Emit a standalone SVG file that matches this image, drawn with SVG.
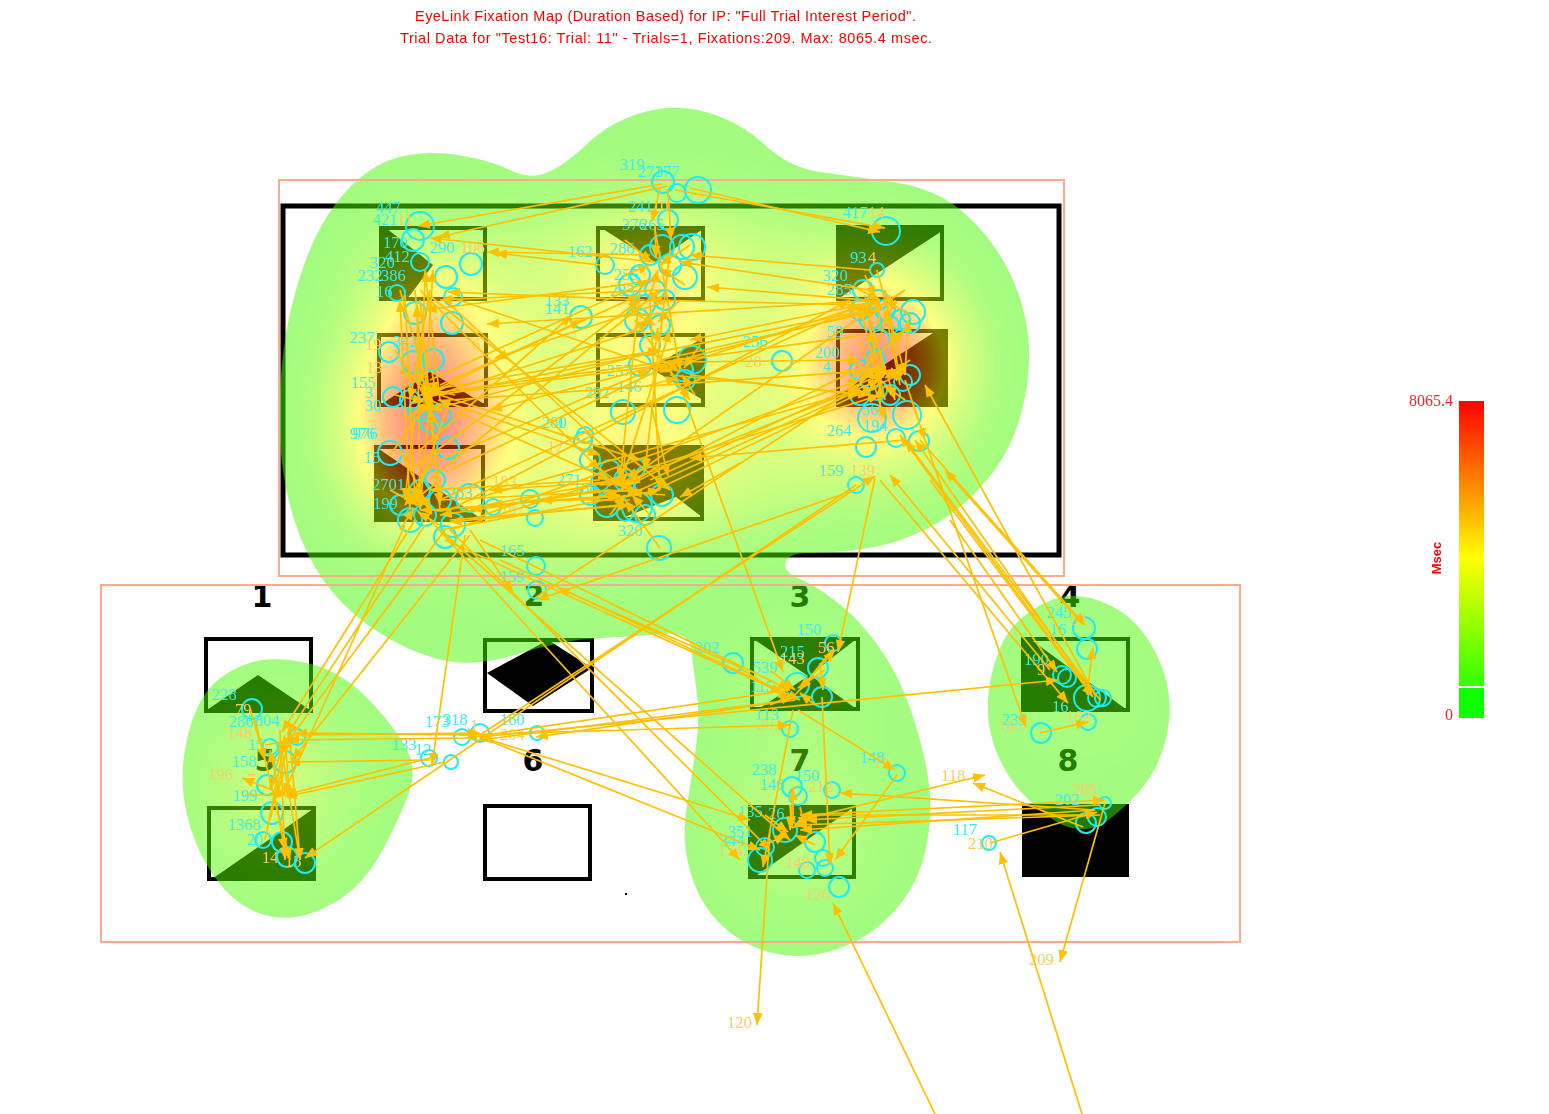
<svg xmlns="http://www.w3.org/2000/svg" width="1549" height="1114" viewBox="0 0 1549 1114">
<style>
.b{fill:none;stroke:#000;stroke-width:4}
.k{fill:#000}
.ip{fill:none;stroke:#ffa98f;stroke-width:2}
.n{font:bold 30px "DejaVu Sans",sans-serif;text-anchor:middle;fill:#000}
.t{font:14.5px "Liberation Sans",Arial,sans-serif;fill:#ff0000}
.v{font:16px "Liberation Serif",serif;fill:#ff2020;text-anchor:end}
.f circle{fill:none;stroke:#1fecf0;stroke-width:2}
.f text{font:16.5px "Liberation Serif",serif;fill:#3cecec}
.f text.o{fill:#ffca62}
#connectors path{fill:none;stroke:#ffc000;stroke-width:1.7;marker-end:url(#arr)}
</style>
<defs>
<marker id="arr" viewBox="0 0 10 8" refX="10" refY="4" markerWidth="12" markerHeight="11" markerUnits="userSpaceOnUse" orient="auto"><path d="M0 0L10 4L0 8Z" fill="#ffc000"/></marker>
<clipPath id="blob">
<path d="M397.5 157.5Q425 150 457.5 155Q490 160 510 170Q530 180 547.5 172.5Q565 165 587.5 143.5Q610 122 642.5 112.5Q675 103 707.5 112.5Q740 122 765 145Q790 168 820 172Q850 176 892.5 182Q935 188 962.5 211.5Q990 235 1007 267.5Q1024 300 1028 335Q1032 370 1022 410Q1012 450 986 481Q960 512 927.5 528.5Q895 545 862.5 549Q830 553 809 553Q788 553 785.5 562.5Q783 572 799 578.5Q815 585 837.5 602.5Q860 620 880 648.5Q900 677 912.5 715Q925 753 929 784Q933 815 925.5 850Q918 885 894 911.5Q870 938 837.5 949Q805 960 775 953.5Q745 947 722.5 926Q700 905 690.5 872.5Q681 840 687 805Q693 770 696.5 742.5Q700 715 696.5 690Q693 665 691.5 650.5Q690 632 665 634Q640 636 600 638Q560 640 515 655Q470 668 437.5 659Q405 650 375 630Q345 610 325 582.5Q305 555 293.5 517.5Q282 480 280 440Q278 400 283 355Q288 310 304 265Q320 220 345 192.5Q370 165 397.5 157.5Z"/>
<path d="M312.5 664.5Q340 672 362.5 693.5Q385 715 402 741Q420 767 407.5 797Q395 827 382 851Q369 875 352 890Q335 905 310 913.5Q285 922 260 913.5Q235 905 215 877.5Q195 850 186.5 812.5Q178 775 188 735Q198 695 219 679Q240 663 262.5 660Q285 657 312.5 664.5Z"/>
<path d="M1061.5 597Q1083 592 1111.5 606Q1140 620 1157.5 656.5Q1175 693 1167.5 731.5Q1160 770 1135 796Q1110 822 1095 827Q1080 832 1065 826Q1050 820 1027.5 798.5Q1005 777 994 745Q983 713 991.5 675Q1000 637 1020 619.5Q1040 602 1061.5 597Z"/>
</clipPath>
<filter id="heat" filterUnits="userSpaceOnUse" x="0" y="0" width="1549" height="1114" color-interpolation-filters="sRGB">
<feGaussianBlur stdDeviation="38"/>
<feColorMatrix values="0 0 0 1 0 0 0 0 1 0 0 0 0 1 0 0 0 0 0 1"/>
<feComponentTransfer><feFuncR type="table" tableValues="0.27 1 1"/><feFuncG type="table" tableValues="0.98 1 0"/><feFuncB type="table" tableValues="0 0 0"/></feComponentTransfer>
</filter>
<linearGradient id="scale" x1="0" y1="0" x2="0" y2="1"><stop offset="0" stop-color="#f00"/><stop offset=".55" stop-color="#ff0"/><stop offset="1" stop-color="#3f0"/></linearGradient>
</defs>
<rect width="1549" height="1114" fill="#fff"/>
<g id="stimuli">
<rect x="283" y="206" width="776" height="349" fill="none" stroke="#000" stroke-width="5"/>
<rect class="b" x="381" y="228" width="104" height="71"/><path class="k" d="M381 228H386L433 265L407 299H381Z"/>
<rect class="b" x="598" y="228" width="105" height="71"/><path class="k" d="M603 229H703L655 262Z"/>
<rect class="b" x="838" y="227" width="104" height="72"/><path class="k" d="M838 227H942V231L838 299Z"/>
<rect class="b" x="379" y="335" width="107" height="70"/><path class="k" d="M380 405L430 372L486 405Z"/>
<rect class="b" x="598" y="335" width="105" height="70"/><path class="k" d="M650 368L703 338V400Z"/>
<rect class="b" x="838" y="331" width="108" height="74"/><path class="k" d="M838 405H946V331H936L838 395Z"/>
<rect class="b" x="376" y="447" width="107" height="73"/><path class="k" d="M376 447L483 520H376Z"/>
<rect class="b" x="595" y="447" width="107" height="72"/><path class="k" d="M596 447H702V517L676 497L625 517H596Z"/>
<rect class="b" x="206" y="639" width="105" height="72"/><path class="k" d="M207 710L258 675L310 710Z"/>
<rect class="b" x="485" y="640" width="107" height="71"/><path class="k" d="M487 673L548 640L592 668L533 706Z"/>
<rect class="b" x="752" y="639" width="106" height="70"/><path class="k" d="M755 640H855L810 675L855 708H760L808 676Z"/>
<rect class="b" x="1023" y="639" width="105" height="71"/><path class="k" d="M1023 639H1030L1127 710H1023Z"/>
<rect class="b" x="209" y="808" width="105" height="71"/><path class="k" d="M212 879H313V809Z"/>
<rect class="b" x="485" y="806" width="105" height="73"/>
<rect class="b" x="750" y="807" width="104" height="70"/><path class="k" d="M751 807H854L757 875H751Z"/>
<rect class="k" x="1022" y="804" width="107" height="73"/>
<rect class="k" x="625" y="893" width="2" height="2"/>
<text class="n" x="262" y="607">1</text><text class="n" x="534" y="606">2</text><text class="n" x="800" y="607">3</text><text class="n" x="1070" y="607">4</text>
<text class="n" x="265" y="771">5</text><text class="n" x="533" y="771">6</text><text class="n" x="800" y="771">7</text><text class="n" x="1068" y="771">8</text>
</g>
<g id="heatmap" clip-path="url(#blob)" opacity=".5">
<g filter="url(#heat)">
<ellipse cx="655" cy="370" rx="290" ry="150" opacity=".3"/>
<ellipse cx="425" cy="420" rx="70" ry="105"/>
<ellipse cx="425" cy="285" rx="50" ry="35" opacity=".55"/>
<ellipse cx="650" cy="280" rx="50" ry="45" opacity=".7"/>
<ellipse cx="650" cy="375" rx="45" ry="45" opacity=".5"/>
<ellipse cx="635" cy="480" rx="60" ry="40" opacity=".7"/>
<ellipse cx="885" cy="365" rx="70" ry="70" opacity="1"/>
<ellipse cx="880" cy="290" rx="45" ry="35" opacity=".55"/>
<ellipse cx="530" cy="530" rx="100" ry="30" opacity=".25"/>
<ellipse cx="280" cy="790" rx="55" ry="70" opacity=".28"/>
<ellipse cx="800" cy="825" rx="50" ry="50" opacity=".3"/>
<ellipse cx="800" cy="690" rx="40" ry="40" opacity=".18"/>
<ellipse cx="1085" cy="700" rx="35" ry="35" opacity=".12"/>
<ellipse cx="900" cy="450" rx="40" ry="40" opacity=".25"/>
</g>
</g>
<rect class="ip" x="279" y="180" width="785" height="396"/>
<rect class="ip" x="101" y="585" width="1139" height="357"/>
<g id="title"><text class="t" x="415" y="21" textLength="501">EyeLink Fixation Map (Duration Based) for IP: "Full Trial Interest Period".</text>
<text class="t" x="400" y="43" textLength="532">Trial Data for  "Test16: Trial: 11" - Trials=1, Fixations:209. Max: 8065.4 msec.</text></g>
<g id="legend">
<rect x="1459" y="401" width="25" height="285" fill="url(#scale)"/>
<rect x="1459" y="688" width="25" height="30" fill="#10ff00"/>
<text class="v" x="1453" y="406">8065.4</text><text class="v" x="1453" y="720">0</text>
<text transform="translate(1441 558) rotate(-90)" text-anchor="middle" style="font:bold 13px 'Liberation Sans',Arial,sans-serif;fill:#ff0000">Msec</text>
</g>
<g id="fixations" class="f">
<g id="f1"><circle cx="420" cy="226" r="14"/><text x="376" y="213">447</text><text x="373" y="225">421</text><text class="o" x="397" y="225">11</text></g>
<g id="f2"><circle cx="413" cy="240" r="11"/><text x="383" y="248">170</text></g>
<g id="f3"><circle cx="446" cy="277" r="11"/><text x="430" y="253">290</text></g>
<g id="f4"><circle cx="471" cy="264" r="11"/><text class="o" x="460" y="253">106</text></g>
<g id="f5"><circle cx="397" cy="293" r="8"/><text x="358" y="281">232</text><text x="370" y="268">320</text></g>
<g id="f6"><circle cx="415" cy="313" r="11"/><text x="381" y="281">386</text></g>
<g id="f7"><circle cx="452" cy="323" r="11"/></g>
<g id="f8"><circle cx="453" cy="297" r="9"/><text x="376" y="297">16</text></g>
<g id="f9"><circle cx="420" cy="262" r="9"/><text x="385" y="262">412</text></g>
<g id="f10"><circle cx="389" cy="352" r="10"/><text x="350" y="343">237</text><text class="o" x="365" y="350">19</text><text x="393" y="347">342</text></g>
<g id="f11"><circle cx="413" cy="362" r="11"/><text class="o" x="472" y="350">6</text></g>
<g id="f12"><circle cx="433" cy="360" r="11"/><text class="o" x="366" y="373">13</text></g>
<g id="f13"><circle cx="393" cy="397" r="10"/><text x="351" y="388">155</text><text x="365" y="398">3</text><text x="365" y="411">30</text></g>
<g id="f14"><circle cx="440" cy="415" r="11"/></g>
<g id="f15"><circle cx="420" cy="390" r="10"/></g>
<g id="f16"><circle cx="390" cy="453" r="12"/><text x="350" y="439">976</text><text x="353" y="439">976</text><text x="364" y="463">15</text></g>
<g id="f17"><circle cx="448" cy="448" r="11"/></g>
<g id="f18"><circle cx="470" cy="498" r="14"/><text x="372" y="490">2701</text></g>
<g id="f19"><circle cx="410" cy="520" r="12"/><text x="373" y="509">199</text></g>
<g id="f20"><circle cx="453" cy="525" r="12"/><text x="448" y="498">283</text></g>
<g id="f21"><circle cx="445" cy="537" r="11"/></g>
<g id="f22"><circle cx="493" cy="507" r="8"/><text class="o" x="492" y="487">183</text></g>
<g id="f23"><circle cx="530" cy="499" r="9"/></g>
<g id="f24"><circle cx="535" cy="518" r="8"/><text class="o" x="500" y="514">167</text></g>
<g id="f25"><circle cx="536" cy="566" r="9"/><text x="500" y="556">165</text></g>
<g id="f26"><circle cx="537" cy="590" r="9"/><text x="500" y="582">159</text></g>
<g id="f27"><circle cx="659" cy="548" r="12"/><text x="618" y="536">320</text></g>
<g id="f28"><circle cx="585" cy="435" r="8"/><text x="542" y="428">280</text><text x="557" y="428">1</text></g>
<g id="f29"><circle cx="583" cy="441" r="9"/><text class="o" x="547" y="452">12</text></g>
<g id="f30"><circle cx="590" cy="460" r="10"/><text x="557" y="485">271</text></g>
<g id="f31"><circle cx="647" cy="480" r="14"/><text x="573" y="494">186</text></g>
<g id="f32"><circle cx="662" cy="495" r="11"/></g>
<g id="f33"><circle cx="637" cy="507" r="15"/></g>
<g id="f34"><circle cx="607" cy="505" r="12"/></g>
<g id="f35"><circle cx="590" cy="495" r="10"/></g>
<g id="f36"><circle cx="625" cy="513" r="8"/></g>
<g id="f37"><circle cx="645" cy="515" r="10"/></g>
<g id="f38"><circle cx="663" cy="182" r="11"/><text x="620" y="170">319</text><text x="638" y="177">271</text></g>
<g id="f39"><circle cx="677" cy="193" r="9"/><text x="655" y="177">377</text></g>
<g id="f40"><circle cx="698" cy="190" r="13"/><text class="o" x="688" y="198">12</text></g>
<g id="f41"><circle cx="605" cy="265" r="9"/><text x="568" y="257">162</text></g>
<g id="f42"><circle cx="668" cy="220" r="10"/><text x="628" y="212">241</text><text class="o" x="652" y="212">10</text></g>
<g id="f43"><circle cx="692" cy="247" r="13"/><text x="622" y="230">376</text></g>
<g id="f44"><circle cx="682" cy="247" r="12"/><text x="610" y="254">286</text></g>
<g id="f45"><circle cx="662" cy="247" r="12"/><text x="640" y="230">265</text></g>
<g id="f46"><circle cx="685" cy="277" r="12"/><text x="614" y="280">255</text></g>
<g id="f47"><circle cx="640" cy="275" r="10"/></g>
<g id="f48"><circle cx="581" cy="317" r="11"/><text x="545" y="306">133</text><text x="545" y="314">141</text></g>
<g id="f49"><circle cx="637" cy="320" r="12"/><text x="610" y="296">233</text></g>
<g id="f50"><circle cx="660" cy="325" r="10"/></g>
<g id="f51"><circle cx="623" cy="412" r="12"/><text x="585" y="398">292</text></g>
<g id="f52"><circle cx="692" cy="360" r="14"/><text x="607" y="376">257</text><text x="617" y="392">146</text></g>
<g id="f53"><circle cx="682" cy="370" r="11"/></g>
<g id="f54"><circle cx="685" cy="380" r="10"/></g>
<g id="f55"><circle cx="677" cy="410" r="13"/></g>
<g id="f56"><circle cx="886" cy="231" r="14"/><text x="843" y="218">417</text><text class="o" x="868" y="218">14</text></g>
<g id="f57"><circle cx="877" cy="270" r="7"/><text x="850" y="263">93</text><text class="o" x="868" y="263">4</text></g>
<g id="f58"><circle cx="913" cy="312" r="12"/><text x="823" y="281">320</text></g>
<g id="f59"><circle cx="910" cy="323" r="10"/><text x="827" y="295">285</text></g>
<g id="f60"><circle cx="900" cy="320" r="10"/></g>
<g id="f61"><circle cx="863" cy="290" r="10"/></g>
<g id="f62"><circle cx="878" cy="300" r="10"/></g>
<g id="f63"><circle cx="880" cy="340" r="10"/><text x="827" y="337">59</text></g>
<g id="f64"><circle cx="782" cy="361" r="10"/><text x="743" y="347">256</text><text class="o" x="745" y="367">28</text></g>
<g id="f65"><circle cx="910" cy="375" r="10"/><text x="815" y="358">200</text></g>
<g id="f66"><circle cx="903" cy="382" r="9"/><text x="823" y="372">4</text></g>
<g id="f67"><circle cx="877" cy="390" r="10"/></g>
<g id="f68"><circle cx="872" cy="418" r="14"/><text x="862" y="415">56</text></g>
<g id="f69"><circle cx="907" cy="415" r="14"/><text x="863" y="431">194</text></g>
<g id="f70"><circle cx="866" cy="447" r="10"/><text x="827" y="436">264</text></g>
<g id="f71"><circle cx="919" cy="441" r="10"/></g>
<g id="f72"><circle cx="896" cy="438" r="9"/></g>
<g id="f73"><circle cx="856" cy="485" r="8"/><text x="819" y="476">159</text><text class="o" x="850" y="476">139</text></g>
<g id="f74"><circle cx="252" cy="709" r="10"/><text x="212" y="700">228</text><text class="o" x="235" y="715">79</text></g>
<g id="f75"><circle cx="297" cy="737" r="8"/><text x="229" y="727">286</text><text x="255" y="726">804</text><text class="o" x="227" y="738">148</text></g>
<g id="f76"><circle cx="270" cy="747" r="8"/><text x="248" y="750">15</text></g>
<g id="f77"><circle cx="285" cy="762" r="11"/><text x="232" y="767">158</text></g>
<g id="f78"><circle cx="267" cy="785" r="10"/><text class="o" x="208" y="780">196</text><text class="o" x="247" y="785">7</text></g>
<g id="f79"><circle cx="272" cy="813" r="11"/><text x="233" y="801">199</text></g>
<g id="f80"><circle cx="263" cy="840" r="8"/><text x="228" y="830">1368</text><text x="247" y="845">20</text></g>
<g id="f81"><circle cx="282" cy="842" r="10"/><text class="o" x="262" y="863">14</text></g>
<g id="f82"><circle cx="287" cy="857" r="10"/><text class="o" x="285" y="867">15</text></g>
<g id="f83"><circle cx="305" cy="863" r="10"/></g>
<g id="f84"><circle cx="429" cy="758" r="8"/><text x="392" y="750">133</text><text x="415" y="755">12</text></g>
<g id="f85"><circle cx="451" cy="762" r="7"/></g>
<g id="f86"><circle cx="462" cy="737" r="8"/><text x="425" y="727">173</text><text x="443" y="725">318</text></g>
<g id="f87"><circle cx="480" cy="733" r="9"/><text class="o" x="470" y="731">1</text></g>
<g id="f88"><circle cx="537" cy="733" r="7"/><text x="500" y="725">160</text><text class="o" x="500" y="740">204</text></g>
<g id="f89"><circle cx="733" cy="663" r="10"/><text x="695" y="653">202</text></g>
<g id="f90"><circle cx="833" cy="643" r="8"/><text x="797" y="635">150</text><text class="o" x="818" y="653">56</text></g>
<g id="f91"><circle cx="818" cy="668" r="10"/><text x="780" y="657">215</text><text class="o" x="780" y="664">143</text></g>
<g id="f92"><circle cx="822" cy="697" r="10"/><text x="753" y="673">539</text></g>
<g id="f93"><circle cx="797" cy="685" r="12"/><text x="750" y="692">115</text></g>
<g id="f94"><circle cx="790" cy="729" r="8"/><text x="755" y="720">113</text><text class="o" x="757" y="730">202</text></g>
<g id="f95"><circle cx="897" cy="773" r="8"/><text x="860" y="763">148</text><text class="o" x="873" y="768">11</text></g>
<g id="f96"><circle cx="792" cy="787" r="10"/><text x="752" y="775">238</text><text x="760" y="790">146</text></g>
<g id="f97"><circle cx="798" cy="796" r="9"/><text x="795" y="781">150</text></g>
<g id="f98"><circle cx="832" cy="790" r="8"/><text class="o" x="808" y="792">212</text></g>
<g id="f99"><circle cx="760" cy="860" r="12"/><text x="738" y="817">135</text></g>
<g id="f100"><circle cx="765" cy="847" r="9"/><text x="728" y="837">351</text></g>
<g id="f101"><circle cx="815" cy="842" r="10"/><text x="720" y="846">344</text><text class="o" x="718" y="856">124</text></g>
<g id="f102"><circle cx="807" cy="870" r="8"/><text class="o" x="785" y="868">148</text></g>
<g id="f103"><circle cx="823" cy="858" r="8"/></g>
<g id="f104"><circle cx="825" cy="868" r="8"/></g>
<g id="f105"><circle cx="839" cy="887" r="10"/><text class="o" x="805" y="900">126</text></g>
<g id="f106"><circle cx="785" cy="830" r="12"/><text x="768" y="819">26</text></g>
<g id="f107"><circle cx="1084" cy="628" r="11"/><text x="1047" y="618">245</text><text class="o" x="1070" y="625">64</text></g>
<g id="f108"><circle cx="1087" cy="649" r="10"/><text x="1050" y="635">16</text></g>
<g id="f109"><circle cx="1062" cy="675" r="9"/><text x="1024" y="665">190</text><text class="o" x="1037" y="675">9</text></g>
<g id="f110"><circle cx="1067" cy="678" r="9"/></g>
<g id="f111"><circle cx="1087" cy="698" r="13"/><text x="1052" y="712">16</text></g>
<g id="f112"><circle cx="1097" cy="698" r="9"/></g>
<g id="f113"><circle cx="1103" cy="698" r="8"/></g>
<g id="f114"><circle cx="1088" cy="722" r="8"/><text class="o" x="1066" y="722">162</text></g>
<g id="f115"><circle cx="1041" cy="733" r="10"/><text x="1002" y="725">239</text><text class="o" x="998" y="732">165</text></g>
<g id="f116"><circle cx="1105" cy="803" r="6"/><text class="o" x="1072" y="795">285</text></g>
<g id="f117"><circle cx="1097" cy="817" r="9"/><text x="1055" y="805">202</text></g>
<g id="f118"><circle cx="1086" cy="823" r="10"/></g>
<g id="f119"><circle cx="989" cy="843" r="7"/><text x="953" y="835">117</text><text class="o" x="968" y="849">210</text></g>
<g id="f120"><circle cx="650" cy="255" r="10"/></g><g id="f121"><circle cx="670" cy="265" r="11"/></g><g id="f122"><circle cx="655" cy="290" r="10"/></g><g id="f123"><circle cx="630" cy="285" r="11"/></g><g id="f124"><circle cx="645" cy="305" r="10"/></g><g id="f125"><circle cx="665" cy="300" r="10"/></g>
<g id="f126"><circle cx="650" cy="345" r="10"/></g><g id="f127"><circle cx="640" cy="365" r="11"/></g>
<g id="f128"><circle cx="610" cy="470" r="10"/></g><g id="f129"><circle cx="625" cy="480" r="11"/></g><g id="f130"><circle cx="600" cy="482" r="9"/></g><g id="f131"><circle cx="635" cy="468" r="10"/></g>
<g id="f132"><circle cx="420" cy="490" r="10"/></g><g id="f133"><circle cx="440" cy="500" r="11"/></g><g id="f134"><circle cx="400" cy="505" r="10"/></g><g id="f135"><circle cx="425" cy="515" r="11"/></g><g id="f136"><circle cx="435" cy="480" r="10"/></g>
<g id="f137"><circle cx="420" cy="410" r="11"/></g><g id="f138"><circle cx="430" cy="422" r="10"/></g><g id="f139"><circle cx="410" cy="400" r="10"/></g>
<g id="f140"><circle cx="860" cy="310" r="10"/></g><g id="f141"><circle cx="870" cy="320" r="10"/></g><g id="f142"><circle cx="885" cy="310" r="10"/></g><g id="f143"><circle cx="890" cy="325" r="9"/></g>
<g id="f144"><circle cx="860" cy="370" r="10"/></g><g id="f145"><circle cx="870" cy="380" r="10"/></g><g id="f146"><circle cx="860" cy="395" r="10"/></g><g id="f147"><circle cx="890" cy="395" r="10"/></g><g id="f148"><circle cx="875" cy="360" r="10"/></g>
<g id="l1"><text class="o" x="941" y="781">118</text></g>
<g id="l2"><text class="o" x="1029" y="965">209</text></g>
<g id="l3"><text class="o" x="727" y="1028">120</text></g>
</g>
<g id="connectors">
<path d="M662 184L418 226"/><path d="M668 186L438 237"/><path d="M675 190L885 228"/><path d="M690 188L880 232"/><path d="M668 190L671 240"/><path d="M660 188L652 222"/>
<path d="M600 265L495 253"/><path d="M655 262L430 238"/><path d="M650 255L487 252"/><path d="M660 280L425 310"/><path d="M660 290L440 300"/><path d="M645 300L448 292"/>
<path d="M450 297L672 372"/><path d="M445 300L640 480"/><path d="M420 290L600 470"/><path d="M430 296L670 490"/>
<path d="M415 290L425 400"/><path d="M425 280L420 385"/><path d="M405 295L415 500"/><path d="M420 300L440 505"/><path d="M430 290L410 400"/><path d="M400 290L430 395"/><path d="M440 400L425 270"/><path d="M425 395L433 270"/><path d="M410 510L400 300"/><path d="M420 500L417 305"/><path d="M440 510L430 410"/><path d="M415 410L405 500"/><path d="M430 400L420 510"/><path d="M400 450L430 510"/><path d="M395 350L435 410"/><path d="M450 400L415 500"/><path d="M390 455L430 400"/><path d="M440 450L405 505"/>
<path d="M435 395L665 365"/><path d="M430 390L660 350"/><path d="M440 395L870 310"/><path d="M435 390L582 320"/><path d="M440 385L640 295"/><path d="M430 380L650 280"/><path d="M450 400L880 370"/><path d="M440 395L640 460"/><path d="M430 400L610 480"/><path d="M440 400L600 455"/>
<path d="M880 300L487 324"/><path d="M670 300L495 358"/><path d="M870 310L490 410"/><path d="M865 335L420 395"/><path d="M660 350L430 410"/><path d="M640 330L420 400"/>
<path d="M440 500L640 490"/><path d="M430 510L620 495"/><path d="M450 520L630 505"/><path d="M460 510L620 480"/><path d="M440 530L660 490"/><path d="M600 490L470 510"/><path d="M640 495L490 505"/><path d="M640 480L490 490"/><path d="M630 500L540 500"/><path d="M620 505L450 522"/><path d="M610 490L440 515"/><path d="M600 480L430 490"/>
<path d="M450 530L880 395"/><path d="M470 520L860 380"/><path d="M470 500L860 390"/><path d="M450 510L850 300"/><path d="M440 500L860 305"/><path d="M430 480L660 290"/><path d="M410 470L640 300"/><path d="M420 450L572 315"/><path d="M440 460L650 370"/><path d="M450 470L680 360"/>
<path d="M440 530L790 840"/><path d="M450 530L770 850"/><path d="M430 520L740 860"/><path d="M480 540L790 690"/><path d="M500 560L800 700"/><path d="M445 540L783 693"/>
<path d="M665 370L880 300"/><path d="M670 375L870 395"/><path d="M690 375L860 395"/><path d="M660 360L880 310"/><path d="M680 362L860 360"/><path d="M865 300L707 287"/><path d="M865 305L650 300"/><path d="M860 305L690 340"/><path d="M870 270L690 255"/><path d="M870 290L680 262"/>
<path d="M620 485L870 310"/><path d="M630 480L880 380"/><path d="M640 490L860 390"/><path d="M650 480L890 370"/><path d="M645 495L905 372"/><path d="M740 463L680 497"/><path d="M905 440L690 458"/><path d="M650 400L668 476"/><path d="M650 300L660 490"/><path d="M640 290L620 480"/><path d="M670 250L645 470"/><path d="M655 230L680 370"/><path d="M635 320L690 400"/><path d="M625 470L670 330"/><path d="M660 548L625 500"/><path d="M855 370L620 490"/>
<path d="M415 520L282 732"/><path d="M425 525L287 735"/><path d="M445 530L285 745"/><path d="M470 535L292 760"/><path d="M405 525L283 795"/><path d="M465 535L432 765"/>
<path d="M856 485L305 858"/><path d="M480 735L875 476"/><path d="M875 478L838 652"/>
<path d="M290 735L480 733"/><path d="M470 735L295 733"/><path d="M465 738L287 740"/><path d="M430 760L288 762"/><path d="M430 758L285 795"/><path d="M445 762L285 797"/><path d="M790 700L480 740"/><path d="M480 737L1058 680"/><path d="M790 690L465 738"/><path d="M460 735L790 725"/><path d="M795 700L536 737"/><path d="M480 737L760 850"/><path d="M490 740L750 820"/>
<path d="M250 708L265 760"/><path d="M255 720L290 860"/><path d="M285 735L270 790"/><path d="M290 740L300 860"/><path d="M280 730L285 860"/><path d="M280 795L270 750"/><path d="M285 795L242 778"/><path d="M265 745L295 740"/><path d="M285 770L275 800"/><path d="M285 740L290 800"/><path d="M265 840L285 740"/><path d="M270 820L290 735"/><path d="M275 800L285 850"/><path d="M300 860L280 740"/><path d="M245 795L285 795"/>
<path d="M735 665L790 700"/><path d="M680 385L783 672"/><path d="M770 830L757 1025"/><path d="M793 710L763 867"/><path d="M822 697L830 865"/><path d="M820 663L823 690"/><path d="M798 710L895 770"/><path d="M897 775L835 860"/><path d="M832 650L800 690"/><path d="M795 695L835 650"/><path d="M793 795L790 830"/><path d="M800 807L805 828"/><path d="M793 820L793 788"/>
<path d="M1095 810L840 793"/><path d="M800 820L985 775"/><path d="M1083 827L973 783"/><path d="M1100 805L805 820"/><path d="M1095 810L800 830"/><path d="M1100 815L795 825"/><path d="M1085 815L800 815"/><path d="M800 815L1105 800"/><path d="M990 843L1097 812"/>
<path d="M1095 695L925 385"/><path d="M1090 690L915 440"/><path d="M1085 685L900 435"/><path d="M1100 700L905 440"/><path d="M1083 625L945 470"/><path d="M1050 670L890 475"/><path d="M925 440L1026 727"/><path d="M930 480L1093 697"/><path d="M880 480L1068 703"/><path d="M950 520L1057 672"/><path d="M920 440L1085 625"/><path d="M1087 695L1093 647"/><path d="M1040 733L1088 722"/>
<path d="M1082 1114L1000 852"/><path d="M935 1114L833 903"/><path d="M1105 803L1060 962"/>
<path d="M735 665L558 588"/><path d="M470 530L513 592"/><path d="M855 490L537 600"/><path d="M535 598L860 385"/>
<path d="M877 270L905 375"/><path d="M860 340L885 420"/><path d="M905 380L925 440"/><path d="M885 290L900 380"/><path d="M870 320L895 400"/><path d="M905 375L908 320"/><path d="M865 295L880 385"/><path d="M850 380L905 330"/><path d="M895 300L860 385"/><path d="M880 390L860 305"/><path d="M845 370L900 375"/><path d="M885 400L870 330"/><path d="M900 385L885 310"/>
<path d="M400 370L432 392"/><path d="M460 380L428 396"/><path d="M430 360L436 394"/><path d="M470 410L438 400"/><path d="M405 420L430 402"/><path d="M440 430L425 398"/><path d="M395 395L425 402"/><path d="M455 395L425 388"/>
<path d="M390 490L418 505"/><path d="M440 480L412 502"/><path d="M420 475L416 506"/><path d="M450 510L420 510"/><path d="M400 530L414 508"/><path d="M440 525L418 512"/>
<path d="M595 465L625 488"/><path d="M660 465L628 485"/><path d="M625 455L622 486"/><path d="M665 495L630 492"/><path d="M590 500L620 490"/><path d="M610 515L625 495"/><path d="M650 515L632 495"/><path d="M600 485L632 482"/>
<path d="M625 240L652 262"/><path d="M690 245L660 265"/><path d="M655 225L656 258"/><path d="M625 275L650 265"/><path d="M685 285L660 268"/><path d="M650 295L658 270"/>
<path d="M630 310L655 325"/><path d="M680 300L658 322"/><path d="M655 350L658 328"/><path d="M625 335L650 320"/>
<path d="M655 355L680 372"/><path d="M700 345L684 368"/><path d="M695 395L682 375"/><path d="M650 385L678 378"/>
<path d="M850 285L880 300"/><path d="M905 290L882 305"/><path d="M880 330L878 298"/><path d="M850 310L875 305"/><path d="M910 315L885 300"/><path d="M865 275L875 298"/>
<path d="M850 360L878 380"/><path d="M910 360L885 378"/><path d="M880 410L880 385"/><path d="M850 395L875 388"/><path d="M905 400L884 385"/><path d="M880 350L883 378"/>
<path d="M770 670L795 690"/><path d="M825 670L798 688"/><path d="M770 705L792 695"/><path d="M815 705L800 693"/>
<path d="M765 815L788 832"/><path d="M815 815L792 828"/><path d="M765 845L786 835"/><path d="M815 845L795 835"/><path d="M790 805L792 828"/>
</g>
</svg>
